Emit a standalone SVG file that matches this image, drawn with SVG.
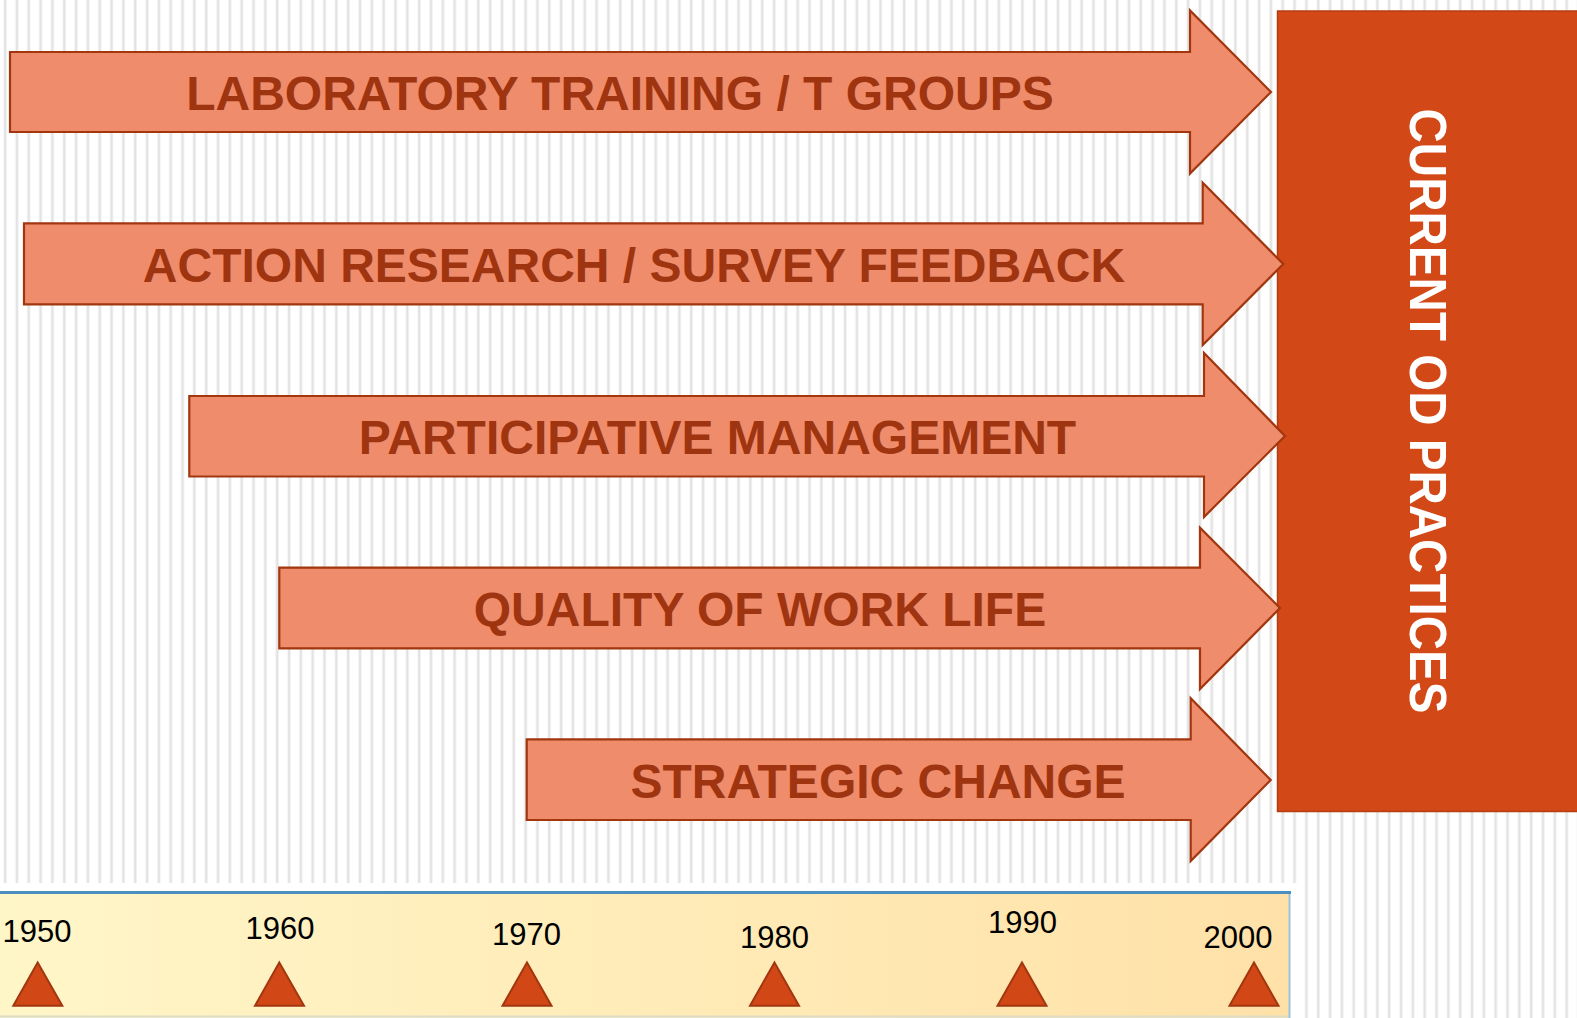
<svg xmlns="http://www.w3.org/2000/svg" width="1577" height="1018" viewBox="0 0 1577 1018">
  <defs>
    <pattern id="stripes" x="0" y="0" width="11.83" height="20" patternUnits="userSpaceOnUse">
      <rect x="0" y="0" width="11.83" height="20" fill="#ffffff"/>
      <rect x="3.6" y="0" width="3" height="20" fill="#ebebeb"/>
      <rect x="4.3" y="0" width="1.6" height="20" fill="#e2e2e2"/>
    </pattern>
    <linearGradient id="barFill" x1="0" y1="0" x2="1" y2="0">
      <stop offset="0" stop-color="#fff6c8"/>
      <stop offset="1" stop-color="#ffe1a8"/>
    </linearGradient>
  </defs>
  <style>
    .arrow { fill: #ef8c6b; stroke: #a2360f; stroke-width: 2.2; stroke-linejoin: miter; }
    .arrow-label { font-family: "Liberation Sans", Arial, sans-serif; font-weight: bold; font-size: 48px; fill: #9e3510; text-anchor: middle; }
    .year { font-family: "Liberation Sans", Arial, sans-serif; font-size: 31px; fill: #000000; text-anchor: middle; }
    .tick { fill: #d14816; stroke: #a2360f; stroke-width: 2; stroke-linejoin: miter; }
    .target { fill: #d24817; stroke: #b53d12; stroke-width: 1.5; }
    .target-label { font-family: "Liberation Sans", Arial, sans-serif; font-weight: bold; font-size: 52px; fill: #ffffff; text-anchor: middle; }
  </style>

  <!-- striped backdrop -->
  <rect x="0" y="0" width="1577" height="1018" fill="url(#stripes)"/>
  <rect x="0" y="883" width="1298" height="135" fill="#ffffff"/>

  <!-- timeline band -->
  <g id="timeline">
    <rect x="0" y="892" width="1290" height="126" fill="url(#barFill)"/>
    <line x1="0" y1="1016.5" x2="1290" y2="1016.5" stroke="#dcdcc8" stroke-width="2"/>
    <line x1="1289.5" y1="892" x2="1289.5" y2="1018" stroke="#9cc3de" stroke-width="2"/>
    <line x1="0" y1="892.5" x2="1291" y2="892.5" stroke="#4a8fc0" stroke-width="3"/>
    <g id="year-1950">
      <text class="year" x="37" y="941.7">1950</text>
      <polygon class="tick" points="37.7,962.5 13.3,1005.7 62.3,1005.7"/>
    </g>
    <g id="year-1960">
      <text class="year" x="280" y="939">1960</text>
      <polygon class="tick" points="279.3,962.5 255,1005.7 304,1005.7"/>
    </g>
    <g id="year-1970">
      <text class="year" x="526.5" y="945">1970</text>
      <polygon class="tick" points="527,962.5 502.5,1005.7 551.5,1005.7"/>
    </g>
    <g id="year-1980">
      <text class="year" x="774.5" y="947.7">1980</text>
      <polygon class="tick" points="774.5,962.5 750,1005.7 799,1005.7"/>
    </g>
    <g id="year-1990">
      <text class="year" x="1022.5" y="933">1990</text>
      <polygon class="tick" points="1022,962.5 997.5,1005.7 1046.5,1005.7"/>
    </g>
    <g id="year-2000">
      <text class="year" x="1238" y="948.3">2000</text>
      <polygon class="tick" points="1254,962.5 1229.5,1005.7 1278.5,1005.7"/>
    </g>
  </g>

  <!-- destination block -->
  <g id="current-od-practices">
    <rect class="target" x="1277.5" y="11" width="310" height="800.5"/>
    <text class="target-label" transform="translate(1410,411) rotate(90)" x="0" y="0" textLength="605" lengthAdjust="spacingAndGlyphs">CURRENT OD PRACTICES</text>
  </g>

  <!-- block arrows feeding the destination -->
  <g id="connectors">
    <g id="lab-training">
      <polygon class="arrow" points="10,52 1190,52 1190,10.5 1271,92 1190,173.5 1190,132 10,132"/>
      <text class="arrow-label" x="620" y="110">LABORATORY TRAINING / T GROUPS</text>
    </g>
    <g id="action-research">
      <polygon class="arrow" points="24,223.3 1202.7,223.3 1202.7,182.7 1283.3,264 1202.7,345 1202.7,304.3 24,304.3"/>
      <text class="arrow-label" x="634" y="282">ACTION RESEARCH / SURVEY FEEDBACK</text>
    </g>
    <g id="participative-management">
      <polygon class="arrow" points="189.3,396 1204,396 1204,353 1285,436 1204,517 1204,476.5 189.3,476.5"/>
      <text class="arrow-label" x="717.5" y="454">PARTICIPATIVE MANAGEMENT</text>
    </g>
    <g id="quality-of-work-life">
      <polygon class="arrow" points="279.3,567.7 1200,567.7 1200,527.7 1280,608 1200,689 1200,648.3 279.3,648.3"/>
      <text class="arrow-label" x="760" y="626">QUALITY OF WORK LIFE</text>
    </g>
    <g id="strategic-change">
      <polygon class="arrow" points="526.7,739.3 1190.7,739.3 1190.7,698.3 1270.7,780 1190.7,861 1190.7,820 526.7,820"/>
      <text class="arrow-label" x="878" y="798">STRATEGIC CHANGE</text>
    </g>
  </g>
</svg>
